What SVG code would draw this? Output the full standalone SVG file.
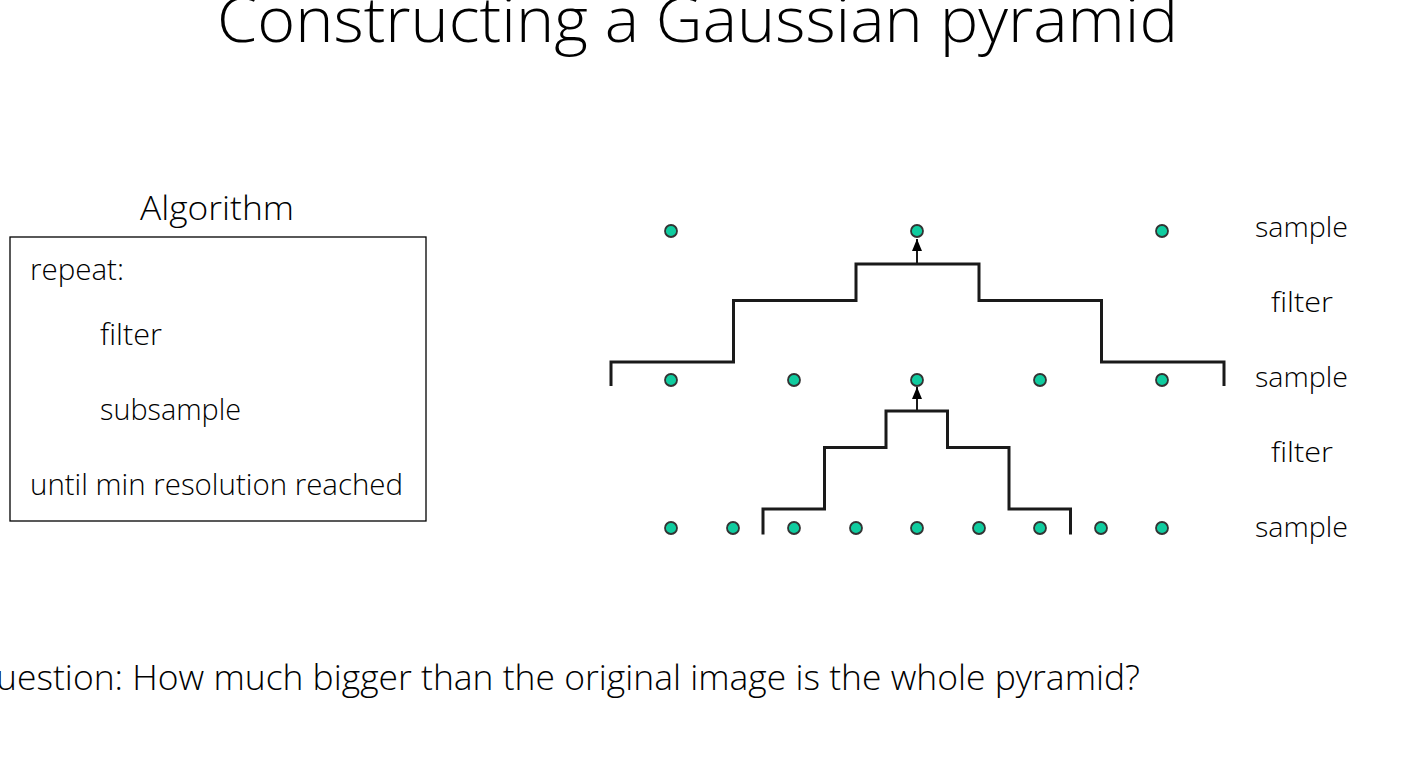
<svg xmlns="http://www.w3.org/2000/svg" width="1414" height="763" viewBox="0 0 1414 763">
  <style>
    .t { font-family: "Open Sans", "Liberation Sans", sans-serif; font-weight: 300; fill: #000; }
    .dot { fill: #10CC9F; stroke: #333; stroke-width: 1.8; }
    .stair { fill: none; stroke: #1a1a1a; stroke-width: 3; stroke-linejoin: miter; }
    .arrow { fill: none; stroke: #1a1a1a; stroke-width: 2; }
  </style>
  <defs>
    <marker id="ah" viewBox="0 0 12 10" refX="12" refY="5" markerWidth="12" markerHeight="10" markerUnits="userSpaceOnUse" orient="auto">
      <path d="M0,0 L12,5 L0,10 z" fill="#000"/>
    </marker>
  </defs>
  <rect width="1414" height="763" fill="#fff"/>

  <text class="t" x="217" y="42" font-size="62" textLength="961" lengthAdjust="spacingAndGlyphs">Constructing a Gaussian pyramid</text>

  <g id="algorithm">
    <text class="t" x="140" y="220" font-size="33" textLength="154" lengthAdjust="spacingAndGlyphs">Algorithm</text>
    <rect x="10" y="237" width="416" height="284" fill="none" stroke="#000" stroke-width="1.3"/>
    <text class="t" x="30" y="280" font-size="29" textLength="94" lengthAdjust="spacingAndGlyphs">repeat:</text>
    <text class="t" x="100" y="345" font-size="29" textLength="62" lengthAdjust="spacingAndGlyphs">filter</text>
    <text class="t" x="100" y="420" font-size="29" textLength="141" lengthAdjust="spacingAndGlyphs">subsample</text>
    <text class="t" x="30" y="495" font-size="29" textLength="373" lengthAdjust="spacingAndGlyphs">until min resolution reached</text>
  </g>

  <g id="connectors">
    <path class="stair" d="M611,386 V362 H733.5 V300.5 H856 V264 H979 V300.5 H1101.5 V362 H1224 V386"/>
    <path class="stair" d="M763,534.5 V509 H824.5 V447.5 H886 V411 H947.5 V447.5 H1009 V509 H1070.5 V534.5"/>
    <path class="arrow" d="M917,264 V239" marker-end="url(#ah)"/>
    <path class="arrow" d="M917,411 V387" marker-end="url(#ah)"/>
  </g>

  <g id="row-top">
    <circle class="dot" cx="671" cy="231" r="6"/>
    <circle class="dot" cx="917" cy="231" r="6"/>
    <circle class="dot" cx="1162" cy="231" r="6"/>
  </g>
  <g id="row-middle">
    <circle class="dot" cx="671" cy="380" r="6"/>
    <circle class="dot" cx="794" cy="380" r="6"/>
    <circle class="dot" cx="917" cy="380" r="6"/>
    <circle class="dot" cx="1040" cy="380" r="6"/>
    <circle class="dot" cx="1162" cy="380" r="6"/>
  </g>
  <g id="row-bottom">
    <circle class="dot" cx="671" cy="528" r="6"/>
    <circle class="dot" cx="733" cy="528" r="6"/>
    <circle class="dot" cx="794" cy="528" r="6"/>
    <circle class="dot" cx="856" cy="528" r="6"/>
    <circle class="dot" cx="917" cy="528" r="6"/>
    <circle class="dot" cx="979" cy="528" r="6"/>
    <circle class="dot" cx="1040" cy="528" r="6"/>
    <circle class="dot" cx="1101" cy="528" r="6"/>
    <circle class="dot" cx="1162" cy="528" r="6"/>
  </g>

  <g id="labels">
    <text class="t" x="1255" y="237" font-size="28" textLength="93" lengthAdjust="spacingAndGlyphs">sample</text>
    <text class="t" x="1271" y="312" font-size="28" textLength="62" lengthAdjust="spacingAndGlyphs">filter</text>
    <text class="t" x="1255" y="387" font-size="28" textLength="93" lengthAdjust="spacingAndGlyphs">sample</text>
    <text class="t" x="1271" y="462" font-size="28" textLength="62" lengthAdjust="spacingAndGlyphs">filter</text>
    <text class="t" x="1255" y="537" font-size="28" textLength="93" lengthAdjust="spacingAndGlyphs">sample</text>
  </g>

  <text class="t" x="-31" y="690" font-size="35" textLength="1171" lengthAdjust="spacingAndGlyphs">Question: How much bigger than the original image is the whole pyramid?</text>
</svg>
